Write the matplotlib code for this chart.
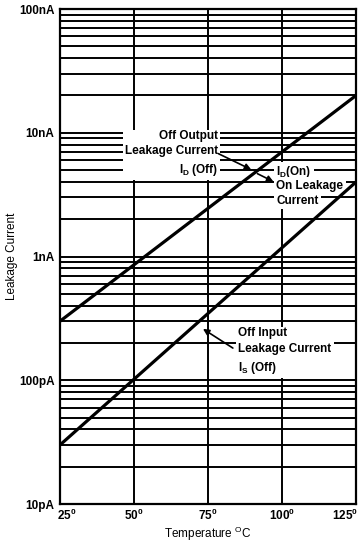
import matplotlib
matplotlib.use("Agg")
import matplotlib.pyplot as plt
from matplotlib.ticker import LogLocator, NullFormatter
from matplotlib.transforms import ScaledTranslation

# data (temperature in C, current in A)
temps = [25, 125]
id_off = [0.3e-9, 20e-9]     # upper line, I_D(Off) / I_D(On)
is_off = [30e-12, 4e-9]      # lower line, I_S(Off)

x_ticks = [25, 50, 75, 100, 125]
x_labels = [r"25$^\mathregular{0}$", r"50$^\mathregular{0}$", r"75$^\mathregular{0}$",
            r"100$^\mathregular{0}$", r"125$^\mathregular{0}$"]
y_ticks = [1e-11, 1e-10, 1e-9, 1e-8, 1e-7]
y_labels = ["10pA", "100pA", "1nA", "10nA", "100nA"]

FONT = ["Liberation Sans", "DejaVu Sans"]
plt.rcParams["font.family"] = FONT
plt.rcParams["font.weight"] = "bold"
plt.rcParams["font.size"] = 8.5

fig = plt.figure(figsize=(3.6, 5.44), dpi=100)
fig.patch.set_facecolor("white")
ax = fig.add_axes([60 / 360, 1 - 504 / 544, 296 / 360, 495 / 544])

ax.set_yscale("log")
ax.set_xlim(25, 125)
ax.set_ylim(1e-11, 1e-7)

ax.set_xticks(x_ticks)
ax.set_xticklabels(x_labels)
ax.set_yticks(y_ticks)
ax.set_yticklabels(y_labels)
ax.yaxis.set_minor_locator(LogLocator(base=10, subs=range(2, 10)))
ax.yaxis.set_minor_formatter(NullFormatter())
ax.tick_params(which="both", length=0, pad=4, labelsize=8.5)
ax.tick_params(axis="x", pad=3)

# nudge the end labels inward like the original
lbls = ax.get_xticklabels()
lbls[0].set_transform(lbls[0].get_transform() + ScaledTranslation(0.07, 0, fig.dpi_scale_trans))
lbls[-1].set_transform(lbls[-1].get_transform() + ScaledTranslation(-0.11, 0, fig.dpi_scale_trans))

ax.grid(True, axis="y", which="both", color="black", linewidth=1.4)
ax.grid(True, axis="x", which="major", color="black", linewidth=1.4)
for s in ax.spines.values():
    s.set_linewidth(1.6)

ax.plot(temps, id_off, color="black", linewidth=2.3, zorder=4, solid_capstyle="butt")
ax.plot(temps, is_off, color="black", linewidth=2.3, zorder=4, solid_capstyle="butt")

ax.set_xlabel(r"Temperature $^\mathregular{O}$C", fontsize=8.5)
ax.xaxis.set_label_coords(0.5, -0.042)
ax.set_ylabel("Leakage Current", fontsize=8.5)
ax.yaxis.set_label_coords(-0.142, 0.5)

box = dict(facecolor="white", edgecolor="none", pad=1.5)

# Off output leakage label block
ax.text(78.5, 6.78e-9, "Off Output\nLeakage Current\n" + r"I$_\mathregular{D}$ (Off)",
        ha="right", va="center", multialignment="right", linespacing=1.4,
        bbox=box, zorder=3)

# I_D(On) label lines
ax.text(98.1, 4.84e-9, r"I$_\mathregular{D}$(On)", ha="left", va="center", bbox=box, zorder=3)
ax.text(98.1, 3.74e-9, "On Leakage", ha="left", va="center", bbox=box, zorder=3)
ax.text(98.1, 2.83e-9, "Current", ha="left", va="center", bbox=box, zorder=3)

# Off input label block
ax.text(85.3, 1.71e-10, "Off Input\nLeakage Current\n" + r"I$_\mathregular{S}$ (Off)",
        ha="left", va="center", multialignment="left", linespacing=1.45,
        bbox=box, zorder=3)

arrow = dict(arrowstyle="-|>", color="black", linewidth=1.2, mutation_scale=9,
             shrinkA=0, shrinkB=0)
ax.annotate("", xy=(89.6, 5.04e-9), xytext=(78.5, 6.78e-9), arrowprops=arrow, zorder=5)
ax.annotate("", xy=(97.1, 4.03e-9), xytext=(91.7, 4.67e-9), arrowprops=arrow, zorder=5)
ax.annotate("", xy=(73.3, 2.6e-10), xytext=(83.4, 1.82e-10), arrowprops=arrow, zorder=5)

fig.savefig("out.png", dpi=100, facecolor="white")
plt.close(fig)
